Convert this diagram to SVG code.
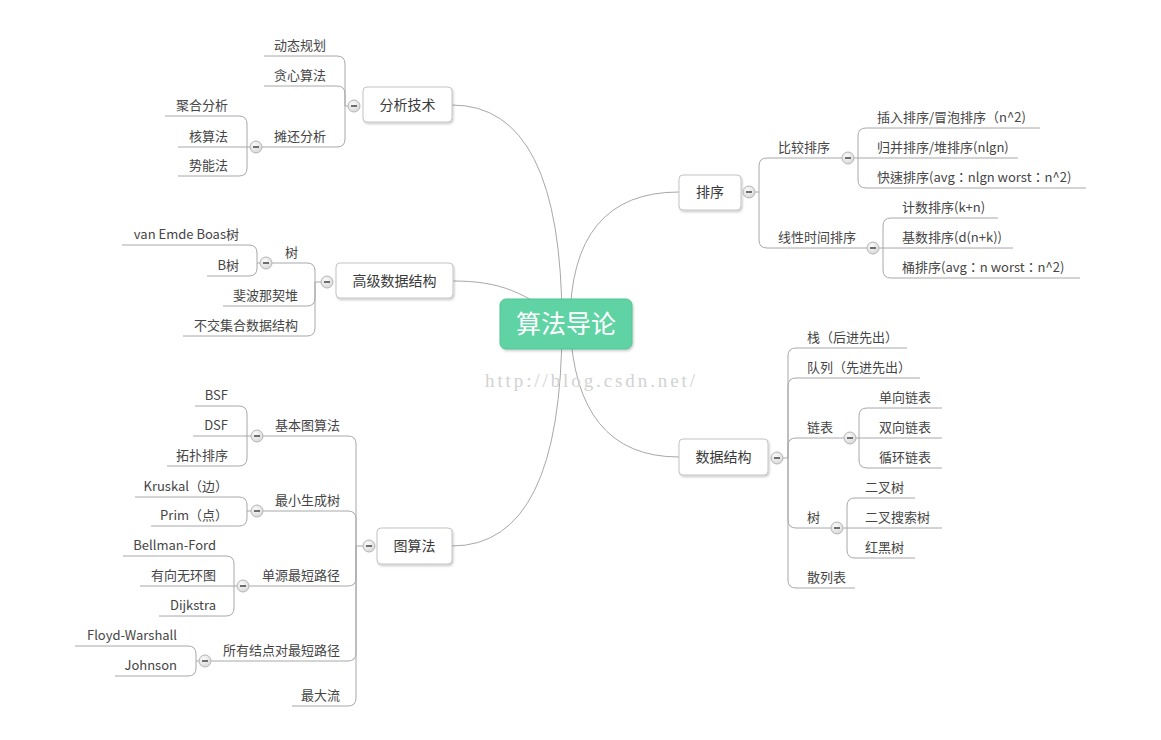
<svg xmlns="http://www.w3.org/2000/svg" width="1161" height="740" viewBox="0 0 1161 740">
<defs>
<style>
.t{font-family:"Noto Sans CJK SC","Liberation Sans",sans-serif;font-size:13px;fill:#454545}
.tc{font-family:"Noto Sans CJK TC","Noto Sans CJK SC",sans-serif}
.e{text-anchor:end}
.m{font-family:"Noto Sans CJK SC","Liberation Sans",sans-serif;font-size:14px;fill:#3a3a3a;text-anchor:middle}
.l{fill:none;stroke:#a8a8a8;stroke-width:1}
.box{fill:#fff;stroke:#c4c4c4;stroke-width:1}
.wm{font-family:"Liberation Serif",serif;font-size:19px;fill:#d2d2d2}
</style>
<radialGradient id="bg" cx="0.4" cy="0.35" r="0.7">
<stop offset="0" stop-color="#fbfbfb"/>
<stop offset="1" stop-color="#d6d6d6"/>
</radialGradient>
<filter id="sh" x="-20%" y="-20%" width="140%" height="160%">
<feDropShadow dx="1" dy="1.5" stdDeviation="1.2" flood-color="#000" flood-opacity="0.22"/>
</filter>
<g id="btn">
<circle r="6" fill="url(#bg)" stroke="#b5b5b5" stroke-width="1"/>
<line x1="-3" y1="0" x2="3" y2="0" stroke="#6e6e6e" stroke-width="2"/>
</g>
</defs>
<rect width="1161" height="740" fill="#fff"/>

<g id="connectors">
<path class="l" d="M452,105 Q562,105 562,324"/>
<path class="l" d="M453,281 C500,281 525,292 566,324"/>
<path class="l" d="M679,192 Q570,192 570,324"/>
<path class="l" d="M679,457 Q575,457 570,324"/>
<path class="l" d="M452,546 Q562,546 562,324"/>

<path class="l" d="M348,106 H345 V64 Q345,56 337,56 H264"/>
<path class="l" d="M345,106 V94 Q345,86 337,86 H264"/>
<path class="l" d="M345,106 V139 Q345,147 337,147 H262"/>
<path class="l" d="M250,147 H247 V124 Q247,116 239,116 H165"/>
<path class="l" d="M247,147 H178"/>
<path class="l" d="M247,147 V168 Q247,176 239,176 H178"/>

<path class="l" d="M321,282 H315 V271 Q315,263 307,263 H272"/>
<path class="l" d="M315,282 V298 Q315,306 307,306 H223"/>
<path class="l" d="M315,282 V328 Q315,336 307,336 H183"/>
<path class="l" d="M260,263 H257 V253 Q257,245 249,245 H122"/>
<path class="l" d="M257,263 V268 Q257,276 249,276 H207"/>

<path class="l" d="M363,546 H356 V444 Q356,436 348,436 H263"/>
<path class="l" d="M356,546 V519 Q356,511 348,511 H263"/>
<path class="l" d="M356,546 V578 Q356,586 348,586 H249"/>
<path class="l" d="M356,546 V653 Q356,661 348,661 H211"/>
<path class="l" d="M356,546 V698 Q356,706 348,706 H292"/>
<path class="l" d="M251,436 H247 V414 Q247,406 239,406 H195"/>
<path class="l" d="M247,436 H193"/>
<path class="l" d="M247,436 V458 Q247,466 239,466 H167"/>
<path class="l" d="M251,511 H247 V505 Q247,497 239,497 H135"/>
<path class="l" d="M247,511 V518 Q247,526 239,526 H151"/>
<path class="l" d="M237,586 H234 V564 Q234,556 226,556 H123"/>
<path class="l" d="M234,586 H140"/>
<path class="l" d="M234,586 V608 Q234,616 226,616 H159"/>
<path class="l" d="M199,661 H196 V654 Q196,646 188,646 H75"/>
<path class="l" d="M196,661 V668 Q196,676 188,676 H115"/>

<path class="l" d="M755,192 H759 V166 Q759,158 767,158 H842"/>
<path class="l" d="M759,192 V240 Q759,248 767,248 H867"/>
<path class="l" d="M854,158 H858 V136 Q858,128 866,128 H1040"/>
<path class="l" d="M858,158 H1018"/>
<path class="l" d="M858,158 V180 Q858,188 866,188 H1086"/>
<path class="l" d="M879,248 H883 V226 Q883,218 891,218 H998"/>
<path class="l" d="M883,248 H1013"/>
<path class="l" d="M883,248 V270 Q883,278 891,278 H1080"/>

<path class="l" d="M783,458 H788 V356 Q788,348 796,348 H907"/>
<path class="l" d="M788,458 V386 Q788,378 796,378 H920"/>
<path class="l" d="M788,458 V446 Q788,438 796,438 H844"/>
<path class="l" d="M788,458 V520 Q788,528 796,528 H831"/>
<path class="l" d="M788,458 V580 Q788,588 796,588 H855"/>
<path class="l" d="M856,438 H859 V416 Q859,408 867,408 H942"/>
<path class="l" d="M859,438 H942"/>
<path class="l" d="M859,438 V460 Q859,468 867,468 H942"/>
<path class="l" d="M843,528 H847 V506 Q847,498 855,498 H915"/>
<path class="l" d="M847,528 H942"/>
<path class="l" d="M847,528 V550 Q847,558 855,558 H915"/>
</g>

<text class="wm" x="485" y="387" textLength="210" lengthAdjust="spacing">http://blog.csdn.net/</text>

<g id="root">
<rect x="500" y="299" width="132" height="50" rx="6" fill="#5fd3a4" stroke="#52c494" stroke-width="1" filter="url(#sh)"/>
<text x="566" y="333" font-family="'Noto Sans CJK SC','Liberation Sans',sans-serif" font-size="25" fill="#fff" text-anchor="middle">算法导论</text>
</g>

<g id="n-fenxi">
<rect class="box" x="363" y="87" width="89" height="35" rx="4" filter="url(#sh)"/>
<text class="m" x="407.5" y="110">分析技术</text>
<use href="#btn" x="354" y="106"/>
</g>
<g id="n-gaoji">
<rect class="box" x="336" y="263" width="117" height="35" rx="4" filter="url(#sh)"/>
<text class="m" x="394.5" y="286">高级数据结构</text>
<use href="#btn" x="327" y="282"/>
</g>
<g id="n-tusuanfa">
<rect class="box" x="377" y="528" width="75" height="36" rx="4" filter="url(#sh)"/>
<text class="m" x="414.5" y="551">图算法</text>
<use href="#btn" x="369" y="546"/>
</g>
<g id="n-paixu">
<rect class="box" x="679" y="175" width="62" height="35" rx="4" filter="url(#sh)"/>
<text class="m" x="710" y="197">排序</text>
<use href="#btn" x="749" y="192"/>
</g>
<g id="n-shuju">
<rect class="box" x="679" y="439" width="89" height="36" rx="4" filter="url(#sh)"/>
<text class="m" x="723.5" y="462">数据结构</text>
<use href="#btn" x="777" y="458"/>
</g>

<g id="n-dongtai"><text class="t e" x="326" y="50">动态规划</text></g>
<g id="n-tanxin"><text class="t e" x="326" y="80">贪心算法</text></g>
<g id="n-tanhuan"><text class="t e" x="326" y="141">摊还分析</text><use href="#btn" x="256" y="147"/></g>
<g id="n-juhe"><text class="t e" x="228" y="110">聚合分析</text></g>
<g id="n-hesuan"><text class="t e" x="228" y="141">核算法</text></g>
<g id="n-shineng"><text class="t e" x="228" y="170">势能法</text></g>

<g id="n-shu1"><text class="t e" x="298" y="257">树</text><use href="#btn" x="266" y="263"/></g>
<g id="n-fibo"><text class="t e" x="298" y="300">斐波那契堆</text></g>
<g id="n-bujiao"><text class="t e" x="298" y="330">不交集合数据结构</text></g>
<g id="n-veb"><text class="t e" x="239" y="239">van Emde Boas树</text></g>
<g id="n-bshu"><text class="t e" x="239" y="270">B树</text></g>

<g id="n-jiben"><text class="t e" x="340" y="430">基本图算法</text><use href="#btn" x="257" y="436"/></g>
<g id="n-zuixiao"><text class="t e" x="340" y="505">最小生成树</text><use href="#btn" x="257" y="511"/></g>
<g id="n-danyuan"><text class="t e" x="340" y="580">单源最短路径</text><use href="#btn" x="243" y="586"/></g>
<g id="n-suoyou"><text class="t e" x="340" y="655">所有结点对最短路径</text><use href="#btn" x="205" y="661"/></g>
<g id="n-zuida"><text class="t e" x="340" y="700">最大流</text></g>
<g id="n-bsf"><text class="t e" x="228" y="400">BSF</text></g>
<g id="n-dsf"><text class="t e" x="228" y="430">DSF</text></g>
<g id="n-tuopu"><text class="t e" x="228" y="460">拓扑排序</text></g>
<g id="n-kruskal"><text class="t e" x="228" y="491">Kruskal（边）</text></g>
<g id="n-prim"><text class="t e" x="228" y="520">Prim（点）</text></g>
<g id="n-bellman"><text class="t e" x="216" y="550">Bellman-Ford</text></g>
<g id="n-youxiang"><text class="t e" x="216" y="580">有向无环图</text></g>
<g id="n-dijkstra"><text class="t e" x="216" y="610">Dijkstra</text></g>
<g id="n-floyd"><text class="t e" x="177" y="640">Floyd-Warshall</text></g>
<g id="n-johnson"><text class="t e" x="177" y="670">Johnson</text></g>

<g id="n-bijiao"><text class="t" x="778" y="152">比较排序</text><use href="#btn" x="848" y="158"/></g>
<g id="n-xianxing"><text class="t" x="778" y="242">线性时间排序</text><use href="#btn" x="873" y="248"/></g>
<g id="n-charu"><text class="t" x="877" y="122">插入排序/冒泡排序（n^2)</text></g>
<g id="n-guibing"><text class="t" x="877" y="152">归并排序/堆排序(nlgn)</text></g>
<g id="n-kuaisu"><text class="t tc" x="877" y="182">快速排序(avg：nlgn worst：n^2)</text></g>
<g id="n-jishu"><text class="t" x="902" y="212">计数排序(k+n)</text></g>
<g id="n-jishu2"><text class="t" x="902" y="242">基数排序(d(n+k))</text></g>
<g id="n-tong"><text class="t tc" x="902" y="272">桶排序(avg：n worst：n^2)</text></g>

<g id="n-zhan"><text class="t" x="807" y="342">栈（后进先出）</text></g>
<g id="n-duilie"><text class="t" x="807" y="372">队列（先进先出）</text></g>
<g id="n-lianbiao"><text class="t" x="807" y="432">链表</text><use href="#btn" x="850" y="438"/></g>
<g id="n-shu2"><text class="t" x="807" y="522">树</text><use href="#btn" x="837" y="528"/></g>
<g id="n-sanlie"><text class="t" x="807" y="582">散列表</text></g>
<g id="n-danxiang"><text class="t" x="879" y="402">单向链表</text></g>
<g id="n-shuangxiang"><text class="t" x="879" y="432">双向链表</text></g>
<g id="n-xunhuan"><text class="t" x="879" y="462">循环链表</text></g>
<g id="n-erchashu"><text class="t" x="865" y="492">二叉树</text></g>
<g id="n-sousuo"><text class="t" x="865" y="522">二叉搜索树</text></g>
<g id="n-hongheishu"><text class="t" x="865" y="552">红黑树</text></g>
</svg>
